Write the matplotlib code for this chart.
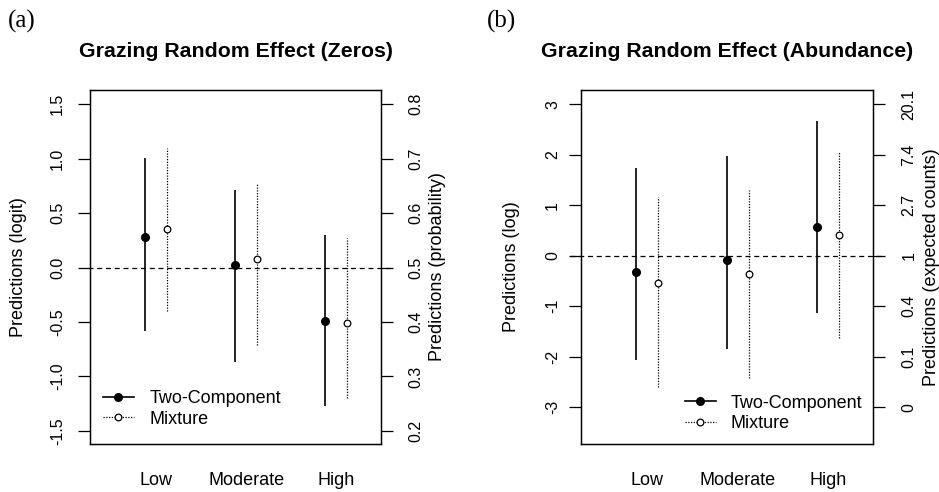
import matplotlib
matplotlib.use("Agg")
import matplotlib.pyplot as plt
from matplotlib.lines import Line2D
import numpy as np

plt.rcParams['font.family'] = ['Liberation Sans', 'DejaVu Sans']

categories = ["Low", "Moderate", "High"]
series_names = ["Two-Component", "Mixture"]

# Panel (a): Zeros (logit scale)
a_tc_mid = [0.28, 0.02, -0.49]
a_tc_lo = [-0.58, -0.87, -1.27]
a_tc_hi = [1.01, 0.71, 0.30]
a_mx_mid = [0.35, 0.08, -0.51]
a_mx_lo = [-0.40, -0.71, -1.20]
a_mx_hi = [1.10, 0.77, 0.27]
a_left_ticks = [-1.5, -1.0, -0.5, 0.0, 0.5, 1.0, 1.5]
a_left_labels = ["-1.5", "-1.0", "-0.5", "0.0", "0.5", "1.0", "1.5"]
a_right_labels = ["0.2", "0.3", "0.4", "0.5", "0.6", "0.7", "0.8"]

# Panel (b): Abundance (log scale)
b_tc_mid = [-0.32, -0.08, 0.57]
b_tc_lo = [-2.06, -1.84, -1.13]
b_tc_hi = [1.74, 1.98, 2.67]
b_mx_mid = [-0.55, -0.36, 0.40]
b_mx_lo = [-2.61, -2.42, -1.64]
b_mx_hi = [1.17, 1.30, 2.08]
b_left_ticks = [-3, -2, -1, 0, 1, 2, 3]
b_left_labels = ["-3", "-2", "-1", "0", "1", "2", "3"]
b_right_labels = ["0", "0.1", "0.4", "1", "2.7", "7.4", "20.1"]

W, H = 939, 492
fig = plt.figure(figsize=(W / 100, H / 100), dpi=100)


def make_panel(rect_px, letter, letter_x, title, tc, mx, lticks, llabels, rlabels,
               ylim, ylab_l, ylab_r, lpad, rpad, ylab_lx, ylab_rx, dash_ext, leg_xy):
    x0, y0, x1, y1 = rect_px
    ax = fig.add_axes([x0 / W, (H - y1) / H, (x1 - x0) / W, (y1 - y0) / H])
    xs = np.arange(1, len(categories) + 1)
    off = 0.122
    tmid, tlo, thi = tc
    mmid, mlo, mhi = mx
    ax.vlines(xs - off, tlo, thi, colors='black', linewidth=1.2, linestyles='solid')
    ax.plot(xs - off, tmid, 'o', color='black', markersize=5.5)
    ax.vlines(xs + off, mlo, mhi, colors='black', linewidth=0.9, linestyles=(0, (1, 1.2)))
    ax.plot(xs + off, mmid, 'o', markerfacecolor='white', markeredgecolor='black',
            markersize=4.8, markeredgewidth=0.9)
    ax.plot([-dash_ext[0], 1 + dash_ext[1]], [0, 0], color='black', linewidth=0.9,
            linestyle=(0, (4, 3)), transform=ax.get_yaxis_transform(), clip_on=False)
    ax.set_xlim(0.265, 3.5)
    ax.set_ylim(*ylim)
    ax.set_xticks(xs)
    ax.set_xticklabels(categories, fontsize=13)
    ax.tick_params(axis='x', length=0, pad=20.5)
    ax.set_yticks(lticks)
    ax.set_yticklabels(llabels, fontsize=11.5, rotation=90, va='center')
    ax.tick_params(axis='y', length=8.5, width=0.9, pad=lpad, direction='out')
    for s in ax.spines.values():
        s.set_linewidth(1.0)
    ax2 = ax.twinx()
    ax2.set_ylim(*ylim)
    ax2.set_yticks(lticks)
    ax2.set_yticklabels(rlabels, fontsize=11.5, rotation=90, va='center')
    ax2.tick_params(axis='y', length=8.5, width=0.9, pad=rpad, direction='out')
    ax.text(ylab_lx, 0.5, ylab_l, rotation=90, ha='center', va='center', fontsize=13,
            transform=ax.transAxes)
    ax.text(ylab_rx, 0.5, ylab_r, rotation=90, ha='center', va='center', fontsize=13,
            transform=ax.transAxes)
    ax.text(0.5, 1.108, title, ha='center', va='center', fontsize=15.3, fontweight='bold',
            transform=ax.transAxes)
    fig.text(letter_x / W, 1 - 21 / H, letter, ha='left', va='center', fontsize=18,
             family=['Liberation Serif', 'DejaVu Serif'])
    h1 = Line2D([], [], color='black', linewidth=1.2, marker='o', markersize=5.5)
    h2 = Line2D([], [], color='black', linewidth=0.9, linestyle=(0, (1, 1.2)), marker='o',
                markerfacecolor='white', markersize=4.8, markeredgewidth=0.9)
    ax.legend([h1, h2], series_names, loc='center left', bbox_to_anchor=leg_xy,
              frameon=False, fontsize=13, handlelength=1.7, handletextpad=0.85,
              borderpad=0, borderaxespad=0, labelspacing=0.2, numpoints=1)
    return ax


make_panel((90, 90, 381, 444), "(a)", 8, "Grazing Random Effect (Zeros)",
           (a_tc_mid, a_tc_lo, a_tc_hi), (a_mx_mid, a_mx_lo, a_mx_hi),
           a_left_ticks, a_left_labels, a_right_labels, (-1.62, 1.63),
           "Predictions (logit)", "Predictions (probability)", 9.5, 11,
           (18 - 90) / 291, (438 - 90) / 291, (0.007, 0.038), (0.045, 0.099))

make_panel((581, 90, 873, 444), "(b)", 487, "Grazing Random Effect (Abundance)",
           (b_tc_mid, b_tc_lo, b_tc_hi), (b_mx_mid, b_mx_lo, b_mx_hi),
           b_left_ticks, b_left_labels, b_right_labels, (-3.73, 3.28),
           "Predictions (log)", "Predictions (expected counts)", 6.5, 12,
           (512 - 581) / 292, (931 - 581) / 292, (0.038, 0.034), (0.356, 0.086))

fig.savefig("out.png", dpi=100)
